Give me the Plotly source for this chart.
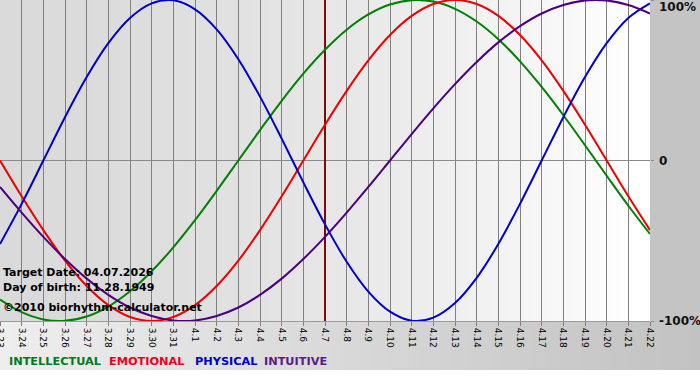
import plotly.graph_objects as go

# ---------------- data ----------------
dates = ["3.23", "3.24", "3.25", "3.26", "3.27", "3.28", "3.29", "3.30", "3.31",
         "4.1", "4.2", "4.3", "4.4", "4.5", "4.6", "4.7", "4.8", "4.9", "4.10",
         "4.11", "4.12", "4.13", "4.14", "4.15", "4.16", "4.17", "4.18", "4.19",
         "4.20", "4.21", "4.22"]

intellectual = [-0.866, -0.945, -0.990, -0.999, -0.972, -0.910, -0.815, -0.690,
                -0.541, -0.372, -0.189, 0.000, 0.189, 0.372, 0.541, 0.690, 0.815,
                0.910, 0.972, 0.999, 0.990, 0.945, 0.866, 0.756, 0.618, 0.458,
                0.282, 0.095, -0.095, -0.282, -0.458]

emotional = [0.000, -0.223, -0.434, -0.624, -0.782, -0.901, -0.975, -1.000,
             -0.975, -0.901, -0.782, -0.624, -0.434, -0.223, 0.000, 0.223, 0.434,
             0.624, 0.782, 0.901, 0.975, 1.000, 0.975, 0.901, 0.782, 0.624,
             0.434, 0.223, 0.000, -0.223, -0.434]

physical = [-0.520, -0.270, 0.000, 0.270, 0.520, 0.731, 0.888, 0.979, 0.998,
            0.942, 0.817, 0.631, 0.398, 0.136, -0.136, -0.398, -0.631, -0.817,
            -0.942, -0.998, -0.979, -0.888, -0.731, -0.520, -0.270, 0.000, 0.270,
            0.520, 0.731, 0.888, 0.979]

intuitive = [-0.165, -0.325, -0.476, -0.614, -0.736, -0.837, -0.916, -0.969,
             -0.997, -0.997, -0.969, -0.916, -0.837, -0.736, -0.614, -0.476,
             -0.325, -0.165, 0.000, 0.165, 0.325, 0.476, 0.614, 0.736, 0.837,
             0.916, 0.969, 0.997, 0.997, 0.969, 0.916]

target_date = "4.7"
y_tick_vals = [1, 0, -1]
y_tick_text = ["100%", "0", "-100%"]
info_lines = ["Target Date: 04.07.2026", "Day of birth: 11.28.1949",
              "\u00a92010 biorhythm-calculator.net"]
series_names = ["INTELLECTUAL", "EMOTIONAL", "PHYSICAL", "INTUITIVE"]

# ---------------- styling ----------------
W, H = 700, 380
PW, PH = 650, 321          # plot area in px
FONT = "DejaVu Sans"
line_colors = ["#008000", "#ee0000", "#0000cc", "#4b0082"]
text_colors = ["#007a1e", "#ee0022", "#0000cc", "#5a1a8a"]

fig = go.Figure()

# background gradients (decoration)
shapes = []
n = 65
for i in range(n):
    f = (i + 0.5) / n
    c = int(round(218 + 38 * f ** 1.6))
    c = min(c, 255)
    shapes.append(dict(type="rect", xref="paper", yref="paper",
                       x0=i / n, x1=(i + 1) / n + 0.001, y0=0, y1=1,
                       fillcolor=f"rgb({c},{c},{c})", line_width=0, layer="below"))
# right margin gray
shapes.append(dict(type="rect", xref="paper", yref="paper",
                   x0=1, x1=W / PW + 0.01, y0=0, y1=1.01,
                   fillcolor="#c4c4c4", line_width=0, layer="below"))
# bottom gradient band
m = 70
yb = -(370 - PH) / PH
for i in range(m):
    f = (i + 0.5) / m
    c = int(round(238 - 44 * f))
    shapes.append(dict(type="rect", xref="paper", yref="paper",
                       x0=i / m * W / PW, x1=(i + 1) / m * W / PW + 0.001,
                       y0=yb, y1=0,
                       fillcolor=f"rgb({c},{c},{c})", line_width=0, layer="below"))

# target date line
fig.add_trace(go.Scatter(x=[target_date, target_date], y=[-1, 1], mode="lines",
                         line=dict(color="#7a0c0c", width=2), hoverinfo="skip",
                         showlegend=False))

for name, vals, col in zip(series_names, [intellectual, emotional, physical, intuitive],
                           line_colors):
    fig.add_trace(go.Scatter(x=dates, y=vals, mode="lines", name=name,
                             line=dict(color=col, width=2, shape="spline", smoothing=1.0),
                             showlegend=False))

annotations = []
# y tick labels
for v, t in zip(y_tick_vals, y_tick_text):
    ys = -7 if v == 1 else 0
    annotations.append(dict(x=1, xref="paper", y=v, yref="y", text=t,
                            xanchor="left", yanchor="middle", xshift=7, yshift=ys,
                            showarrow=False,
                            font=dict(family=FONT, size=12, color="#111111", weight="bold")))
# info text
for txt, py in zip(info_lines, [272, 287, 307]):
    annotations.append(dict(x=0, xref="paper", y=1 - py / PH, yref="paper", text=txt,
                            xanchor="left", yanchor="middle", xshift=1, showarrow=False,
                            font=dict(family=FONT, size=11, color="#000000", weight="bold")))
# legend words
for txt, col, px in zip(series_names, text_colors, [7, 107, 193, 262]):
    annotations.append(dict(x=px / PW, xref="paper", y=-(362 - PH) / PH, yref="paper",
                            text=txt, xanchor="left", yanchor="middle", showarrow=False,
                            font=dict(family=FONT, size=11.3, color=col, weight="bold")))

fig.update_layout(
    width=W, height=H,
    margin=dict(l=0, r=W - PW, t=0, b=H - PH, pad=0, autoexpand=False),
    paper_bgcolor="#ffffff",
    plot_bgcolor="rgba(0,0,0,0)",
    shapes=shapes,
    annotations=annotations,
    showlegend=False,
    xaxis=dict(type="category", categoryorder="array", categoryarray=dates,
               range=[0, len(dates) - 1], showgrid=True, gridcolor="#808080",
               gridwidth=1, ticks="outside", ticklen=4, tickcolor="#808080",
               tickangle=90, tickfont=dict(family=FONT, size=9, color="#000000"),
               showline=True, linecolor="#9a9a9a", linewidth=1, mirror=True,
               zeroline=False, fixedrange=True, automargin=False),
    yaxis=dict(range=[-1, 1], side="right", showgrid=False, zeroline=True,
               zerolinecolor="#8a8a8a", zerolinewidth=1, tickvals=y_tick_vals,
               showticklabels=False, ticks="outside", ticklen=3, tickcolor="#8a8a8a",
               showline=False, fixedrange=True, automargin=False),
)

fig.write_html("out.html", config={"displayModeBar": False},
               post_script="document.body.style.margin='0';document.body.style.overflow='hidden';")
